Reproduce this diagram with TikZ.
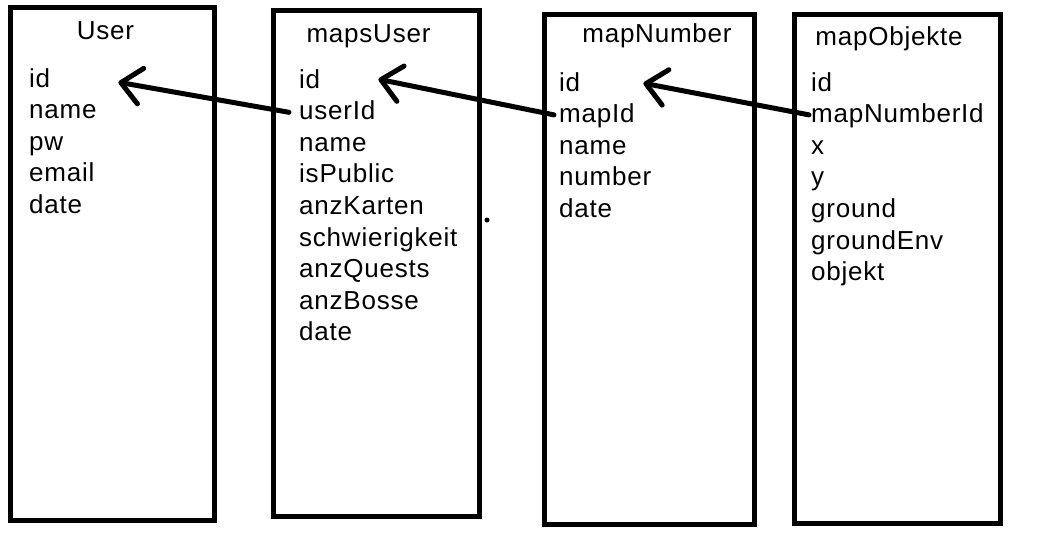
\documentclass[tikz,border=0pt]{standalone}
\usepackage{fontspec}
\setmainfont{Liberation Sans}[LetterSpace=3.0]
\usepackage{tikz}
\usetikzlibrary{arrows.meta}
\tikzset{
  tablebox/.style={line width=5pt},
  title/.style={anchor=base, inner sep=0pt, font=\fontsize{26}{32}\selectfont},
  field/.style={anchor=base west, inner sep=0pt, font=\fontsize{26}{32}\selectfont},
  link/.style={line width=5pt, line cap=round,
    arrows = {-Straight Barb[length=20pt, width=36pt, round]}},
}

\begin{document}
\begin{tikzpicture}[x=1pt, y=-1pt]
\useasboundingbox (0,0) rectangle (1046,539);
% tables
\draw[tablebox] (10.5,7.5) rectangle (214.5,520);
\draw[tablebox] (273,10.5) rectangle (479.5,516.5);
\draw[tablebox] (544.5,14.5) rectangle (754.5,524.5);
\draw[tablebox] (794.5,14.5) rectangle (1000.5,523.5);
% User
\node[title] (user) at (105.5,39) {User};
\node[field] (user-id) at (29,87) {id};
\node[field] (user-name) at (29,118.6) {name};
\node[field] (user-pw) at (29,150.2) {pw};
\node[field] (user-email) at (29,181.8) {email};
\node[field] (user-date) at (29,213.4) {date};
% mapsUser
\node[title] (mu) at (368.5,42) {mapsUser};
\node[field] (mu-id) at (299,88) {id};
\node[field] (mu-userId) at (299,119.6) {userId};
\node[field] (mu-name) at (299,151.2) {name};
\node[field] (mu-isPublic) at (299,182.8) {isPublic};
\node[field] (mu-anzKarten) at (299,214.4) {anzKarten};
\node[field] (mu-schwierigkeit) at (299,246) {schwierigkeit};
\node[field] (mu-anzQuests) at (299,277.6) {anzQuests};
\node[field] (mu-anzBosse) at (299,309.2) {anzBosse};
\node[field] (mu-date) at (299,340.8) {date};
% mapNumber
\node[title] (mn) at (657,42) {mapNumber};
\node[field] (mn-id) at (559,91) {id};
\node[field] (mn-mapId) at (559,122.6) {mapId};
\node[field] (mn-name) at (559,154.2) {name};
\node[field] (mn-number) at (559,185.8) {number};
\node[field] (mn-date) at (559,217.4) {date};
% mapObjekte
\node[title] (mo) at (889,45) {mapObjekte};
\node[field] (mo-id) at (811,91) {id};
\node[field] (mo-mapNumberId) at (811,122.6) {mapNumberId};
\node[field] (mo-x) at (811,154.2) {x};
\node[field] (mo-y) at (811,185.8) {y};
\node[field] (mo-ground) at (811,217.4) {ground};
\node[field] (mo-groundEnv) at (811,249) {groundEnv};
\node[field] (mo-objekt) at (811,280.6) {objekt};
% stray dot
\fill (487,220) circle[radius=2.5pt];
% foreign keys
\draw[link] ([shift={(-10,2)}]mu-userId.west) -- ([shift={(68,4.5)}]user-id.east);
\draw[link] ([shift={(-5,-1)}]mn-mapId.west) -- ([shift={(58,0.5)}]mu-id.east);
\draw[link] ([shift={(-2,-1)}]mo-mapNumberId.west) -- ([shift={(63,1.5)}]mn-id.east);
\end{tikzpicture}
\end{document}
